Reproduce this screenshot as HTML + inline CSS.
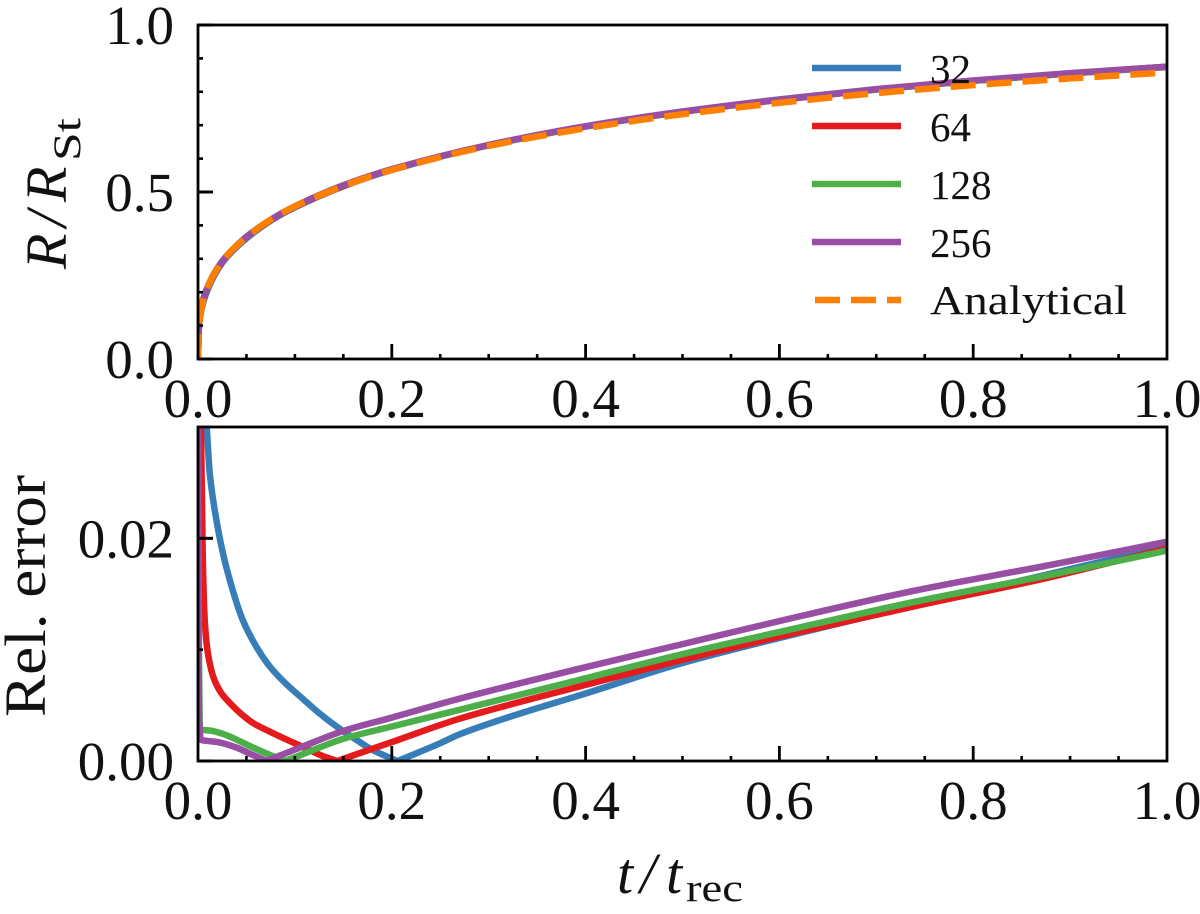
<!DOCTYPE html>
<html>
<head>
<meta charset="utf-8">
<title>Relative error chart</title>
<style>
html,body{margin:0;padding:0;background:#fff;width:1200px;height:914px;overflow:hidden}
svg{display:block}
text{font-family:"Liberation Serif",serif;fill:#111}
</style>
</head>
<body>
<svg id="chart" width="1200" height="914" viewBox="0 0 1200 914" xmlns="http://www.w3.org/2000/svg">
<defs>
<clipPath id="clip-top"><rect x="198" y="25" width="969" height="334"/></clipPath>
<clipPath id="clip-bottom"><rect x="198" y="427" width="969" height="334"/></clipPath>
</defs>
<rect width="1200" height="914" fill="#fff"/>
<g id="top-lines" clip-path="url(#clip-top)"></g>
<g id="bottom-lines" clip-path="url(#clip-bottom)"></g>
<g id="axes"></g>
<g transform="translate(66,269) rotate(-90)">
<text font-size="58" font-style="italic" x="0" y="0">R</text>
<text font-size="58" font-style="italic" x="42" y="0">/</text>
<text font-size="58" font-style="italic" x="67" y="0">R</text>
<text font-size="39" x="108" y="14" textLength="43" lengthAdjust="spacingAndGlyphs">St</text>
</g>
<text transform="translate(45,717) rotate(-90)" font-size="58" textLength="242" lengthAdjust="spacingAndGlyphs">Rel. error</text>
<g>
<text font-size="58" font-style="italic" x="617" y="893">t</text>
<text font-size="58" font-style="italic" x="640" y="893">/</text>
<text font-size="58" font-style="italic" x="666" y="893">t</text>
<text font-size="39" x="686" y="901" textLength="57" lengthAdjust="spacingAndGlyphs">rec</text>
</g>
<g id="legend"></g>
<script>
var timeTop = [0,0.001,0.002,0.005,0.01,0.02,0.03,0.05,0.075,0.1,0.15,0.2,0.3,0.4,0.5,0.6,0.7,0.8,0.9,1];
var radius32 = [0,0.1,0.122,0.165,0.208,0.266,0.306,0.361,0.414,0.454,0.517,0.566,0.64,0.696,0.74,0.776,0.807,0.833,0.855,0.875];
var radius64 = [0,0.1,0.13,0.176,0.216,0.27,0.309,0.365,0.416,0.456,0.518,0.568,0.64,0.696,0.74,0.776,0.807,0.833,0.855,0.875];
var radius128 = [0,0.1,0.127,0.172,0.216,0.272,0.31,0.366,0.417,0.457,0.52,0.568,0.64,0.696,0.74,0.777,0.807,0.833,0.855,0.874];
var radius256 = [0,0.1,0.126,0.171,0.216,0.272,0.31,0.366,0.417,0.457,0.52,0.568,0.641,0.697,0.741,0.777,0.808,0.834,0.856,0.875];
var radiusAnalytical = [0,0.1,0.126,0.171,0.215,0.271,0.31,0.365,0.417,0.457,0.518,0.566,0.638,0.691,0.733,0.767,0.796,0.82,0.84,0.858];

var time32 = [0.009,0.0125,0.0225,0.032,0.046,0.06,0.074,0.09,0.108,0.125,0.143,0.16,0.18,0.195,0.206,0.22,0.25,0.27,0.33,0.394,0.5,0.621,0.745,0.879,1];
var error32 = [0.03,0.0255,0.02,0.0165,0.0127,0.0103,0.0085,0.007,0.0056,0.0043,0.0031,0.0021,0.001,0.0004,0,0.0005,0.0016,0.0024,0.0042,0.0059,0.0088,0.0115,0.0141,0.0168,0.0193];
var time64 = [0.003,0.004,0.005,0.007,0.01,0.016,0.024,0.033,0.045,0.057,0.075,0.092,0.11,0.13,0.144,0.16,0.2,0.27,0.394,0.5,0.621,0.745,0.879,1];
var error64 = [0.03,0.024,0.018,0.0126,0.0098,0.0075,0.0061,0.0052,0.0042,0.0034,0.0026,0.0019,0.0012,0.0004,0,0.0005,0.0017,0.0038,0.0067,0.0091,0.0116,0.014,0.0165,0.0191];
var time128 = [0,0.001,0.002,0.005,0.015,0.03,0.045,0.057,0.07,0.09,0.105,0.125,0.15,0.2,0.27,0.394,0.5,0.621,0.745,0.879,1];
var error128 = [0.03,0.01,0.0029,0.0028,0.0027,0.0023,0.0017,0.0012,0.0007,0,0.0005,0.0012,0.002,0.0031,0.0046,0.0073,0.0096,0.012,0.0144,0.0167,0.0189];
var time256 = [0,0.0005,0.001,0.003,0.01,0.02,0.04,0.055,0.071,0.085,0.108,0.15,0.2,0.27,0.394,0.5,0.621,0.745,0.879,1];
var error256 = [0.03,0.01,0.004,0.0019,0.0018,0.0017,0.0012,0.0006,0,0.0005,0.0013,0.0027,0.0039,0.0056,0.0083,0.0105,0.013,0.0154,0.0176,0.0197];

var xTicks = [0,0.2,0.4,0.6,0.8,1];
var xTickLabels = ["0.0","0.2","0.4","0.6","0.8","1.0"];
var xMinorTicks = [0.05,0.1,0.15,0.25,0.3,0.35,0.45,0.5,0.55,0.65,0.7,0.75,0.85,0.9,0.95];
var topYTicks = [0,0.5,1];
var topYTickLabels = ["0.0","0.5","1.0"];
var topYMinorTicks = [0.1,0.2,0.3,0.4,0.6,0.7,0.8,0.9];
var bottomYTicks = [0,0.02];
var bottomYTickLabels = ["0.00","0.02"];
var bottomYMinorTicks = [0.01];
var legendLabels = ["32","64","128","256","Analytical"];
var legendColors = ["#377eb8","#e41a1c","#4daf4a","#984ea3","#ff7f00"];

var NS = "http://www.w3.org/2000/svg";
function xScale(v){ return 198 + v * 969; }
function topY(v){ return 359 - v * 334; }
function bottomY(v){ return 761 - (v / 0.03) * 334; }

function make(parent, tag, attrs){
  var el = document.createElementNS(NS, tag);
  for (var k in attrs) el.setAttribute(k, attrs[k]);
  parent.appendChild(el);
  return el;
}
/* Smooth monotone path through the data points; sign changes of slope stay sharp corners. */
function smoothPath(px, py){
  var n = px.length, sec = [], i;
  for (i = 0; i < n - 1; i++) sec.push((py[i + 1] - py[i]) / Math.max(px[i + 1] - px[i], 1e-6));
  var d = "M" + px[0].toFixed(2) + "," + py[0].toFixed(2);
  function tangent(k, fallback){
    if (k <= 0 || k >= n - 1) return fallback;
    var a = sec[k - 1], b = sec[k];
    if (a * b <= 0) return fallback;
    return 2 * a * b / (a + b);
  }
  for (i = 0; i < n - 1; i++) {
    var h = px[i + 1] - px[i];
    var m0 = tangent(i, sec[i]);
    var m1 = tangent(i + 1, sec[i]);
    d += " C" + (px[i] + h / 3).toFixed(2) + "," + (py[i] + m0 * h / 3).toFixed(2) + " " +
         (px[i + 1] - h / 3).toFixed(2) + "," + (py[i + 1] - m1 * h / 3).toFixed(2) + " " +
         px[i + 1].toFixed(2) + "," + py[i + 1].toFixed(2);
  }
  return d;
}
function drawSeries(parent, xs, ys, yScale, color, name, dashed){
  var d = smoothPath(xs.map(xScale), ys.map(yScale));
  var line = make(parent, "path", {d: d, fill: "none", stroke: color, "stroke-width": 6.5, "stroke-linejoin": "round"});
  if (dashed) line.setAttribute("stroke-dasharray", "25 11");
  
  
}
var topGroup = document.getElementById("top-lines");
var bottomGroup = document.getElementById("bottom-lines");
drawSeries(topGroup, timeTop, radius32, topY, legendColors[0], "radius-line-32", false);
drawSeries(topGroup, timeTop, radius64, topY, legendColors[1], "radius-line-64", false);
drawSeries(topGroup, timeTop, radius128, topY, legendColors[2], "radius-line-128", false);
drawSeries(topGroup, timeTop, radius256, topY, legendColors[3], "radius-line-256", false);
drawSeries(topGroup, timeTop, radiusAnalytical, topY, legendColors[4], "radius-line-analytical", true);
drawSeries(bottomGroup, time32, error32, bottomY, legendColors[0], "error-line-32", false);
drawSeries(bottomGroup, time64, error64, bottomY, legendColors[1], "error-line-64", false);
drawSeries(bottomGroup, time128, error128, bottomY, legendColors[2], "error-line-128", false);
drawSeries(bottomGroup, time256, error256, bottomY, legendColors[3], "error-line-256", false);

var axes = document.getElementById("axes");
function tick(x1, y1, x2, y2, w, name){
  var t = make(axes, "line", {x1: x1, y1: y1, x2: x2, y2: y2, stroke: "#000", "stroke-width": w});
  
  
}
function label(x, y, str, anchor, name){
  var t = make(axes, "text", {x: x, y: y, "font-size": 55, "text-anchor": anchor});
  t.textContent = str;
  
  
}
function panel(yScale, bottomPx, topPx, yTicks, yLabels, yMinor, prefix){
  var frame = make(axes, "rect", {x: 198, y: topPx, width: 969, height: bottomPx - topPx, fill: "none", stroke: "#000", "stroke-width": 2.8});
  
  
  xTicks.forEach(function(v, i){
    if (i > 0 && i < xTicks.length - 1) tick(xScale(v), bottomPx, xScale(v), bottomPx - 15, 2.8, prefix + "-x-major-tick");
    label(xScale(v), bottomPx + 58, xTickLabels[i], "middle", prefix + "-x-tick-label");
  });
  xMinorTicks.forEach(function(v){
    tick(xScale(v), bottomPx, xScale(v), bottomPx - 5, 2.6, prefix + "-x-minor-tick");
  });
  yTicks.forEach(function(v, i){
    tick(198, yScale(v), 213, yScale(v), 3, prefix + "-y-major-tick");
    label(174, yScale(v) + 19, yLabels[i], "end", prefix + "-y-tick-label");
  });
  yMinor.forEach(function(v){
    tick(198, yScale(v), 203, yScale(v), 2.6, prefix + "-y-minor-tick");
  });
}
panel(topY, 359, 25, topYTicks, topYTickLabels, topYMinorTicks, "top");
panel(bottomY, 761, 427, bottomYTicks, bottomYTickLabels, bottomYMinorTicks, "bottom");

var legend = document.getElementById("legend");
legendLabels.forEach(function(name, i){
  var y = 68 + i * 58;
  var dashed = i === legendLabels.length - 1;
  var sw = make(legend, "line", {x1: dashed ? 815 : 812, y1: y, x2: 901, y2: y, stroke: legendColors[i], "stroke-width": 6.5});
  if (dashed) sw.setAttribute("stroke-dasharray", "25 11");
  
  
  var t = make(legend, "text", {x: 930, y: y + (dashed ? 14 : 15), "font-size": 41});
  if (dashed) { t.setAttribute("textLength", "197"); t.setAttribute("lengthAdjust", "spacingAndGlyphs"); }
  t.textContent = name;
  
  
});
</script>
</svg>
</body>
</html>
